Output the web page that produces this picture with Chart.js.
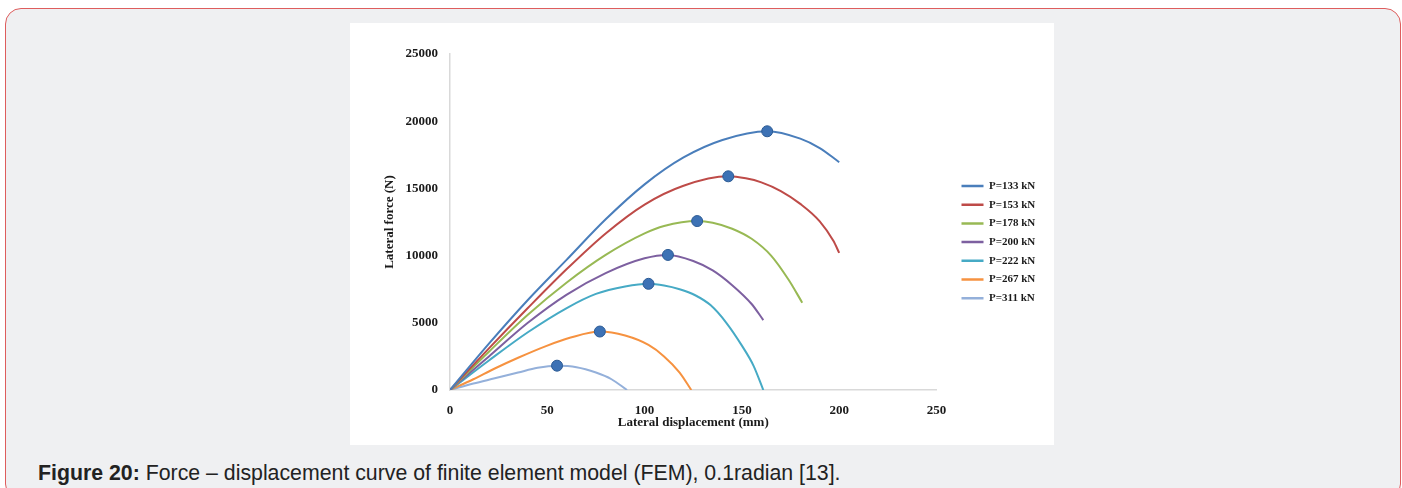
<!DOCTYPE html>
<html>
<head>
<meta charset="utf-8">
<script src="https://cdn.jsdelivr.net/npm/chart.js@4.4.1/dist/chart.umd.min.js"></script>
<style>
html,body{margin:0;padding:0;background:#fff;}
body{width:1402px;height:488px;position:relative;overflow:hidden;}
.frame{position:absolute;left:5px;top:8px;width:1396px;height:492px;border:1.5px solid #de5d5d;border-radius:16px;background:#eff0f2;box-sizing:border-box;}
.panel{position:absolute;left:350px;top:23px;width:704px;height:422px;background:#fff;}
.caption{position:absolute;left:38px;top:461px;font-family:"Liberation Sans",Arial,sans-serif;font-size:21.3px;color:#222;white-space:nowrap;}
</style>
</head>
<body>
<div class="frame"></div>
<div class="panel"><canvas id="myChart" width="704" height="422"></canvas></div>
<div class="caption"><b>Figure 20:</b> Force – displacement curve of finite element model (FEM), 0.1radian [13].</div>
<script>
// series names + colours (Excel 2010 palette)
const seriesNames = ['P=133 kN', 'P=153 kN', 'P=178 kN', 'P=200 kN', 'P=222 kN', 'P=267 kN', 'P=311 kN'];
const lineColors = ['#4a7ebb', '#be4b48', '#98b954', '#7d60a0', '#46aac5', '#f69240', '#94b0da'];

// [displacement mm, force N]
const p133 = [[0,0],[20,3450],[40,6700],[60,9700],[80,12700],[100,15300],[120,17300],[140,18600],[163,19250],[180,18700],[190,18000],[200,16950]];
const p153 = [[0,0],[20,3100],[40,6100],[60,9000],[80,11650],[100,13800],[120,15200],[143,15900],[152,15750],[160,15450],[170,14800],[180,13850],[190,12550],[197,11100],[200,10200]];
const p178 = [[0,0],[20,2850],[40,5600],[60,8000],[80,10050],[100,11650],[110,12200],[127,12570],[135,12450],[145,12000],[155,11250],[165,10000],[174,8200],[181,6500]];
const p200 = [[0,0],[20,2500],[40,5000],[60,7100],[80,8700],[100,9800],[112,10050],[125,9600],[135,8900],[145,7800],[155,6400],[161,5200]];
const p222 = [[0,0],[20,2200],[40,4300],[60,6100],[75,7150],[90,7700],[102,7900],[110,7780],[118,7500],[126,7050],[134,6300],[142,5000],[150,3300],[156,1800],[161,0]];
const p267 = [[0,0],[12,800],[23,1600],[35,2400],[49,3250],[62,3900],[77,4350],[90,4050],[102,3350],[110,2500],[118,1300],[124,0]];
const p311 = [[0,0],[12,480],[23,870],[35,1300],[45,1650],[55,1800],[65,1700],[75,1300],[83,800],[91,0]];
const allSeries = [p133, p153, p178, p200, p222, p267, p311];

// peak markers
const peakX = [163, 143, 127, 112, 102, 77, 55];
const peakY = [19250, 15900, 12570, 10050, 7900, 4350, 1810];

const xTicks = [0, 50, 100, 150, 200, 250];
const yTicks = [0, 5000, 10000, 15000, 20000, 25000];

Chart.defaults.font.family = '"Liberation Serif", "Times New Roman", serif';
Chart.defaults.font.weight = 'bold';
Chart.defaults.color = '#1a1a1a';

const datasets = [{
  label: 'peak',
  data: peakX.map((x, i) => ({x: x, y: peakY[i]})),
  showLine: false,
  pointRadius: 5.5,
  pointBackgroundColor: '#3d72b5',
  pointBorderColor: '#2b5a94',
  pointBorderWidth: 1,
  order: 0
}];
allSeries.forEach((s, i) => {
  datasets.push({
    label: seriesNames[i],
    data: s.map(p => ({x: p[0], y: p[1]})),
    borderColor: lineColors[i],
    backgroundColor: lineColors[i],
    borderWidth: 2,
    pointRadius: 0,
    fill: false,
    cubicInterpolationMode: 'monotone',
    order: 1
  });
});

// moves the legend to where the original sits
const legendShift = {
  id: 'legendShift',
  afterLayout(chart) {
    const lg = chart.legend;
    const pad = lg.options.labels.padding;
    const dx = chart.chartArea.right + 25 - pad - lg.left;
    lg.left += dx; lg.right += dx;
    const colH = lg.columnSizes[0].height;
    lg.top = 157.5 - pad;
    lg.bottom = lg.top + pad + colH;
  }
};

new Chart(document.getElementById('myChart'), {
  type: 'line',
  data: {datasets: datasets},
  options: {
    responsive: false,
    animation: false,
    layout: {padding: {top: 31, right: 26, bottom: 0, left: 0}},
    scales: {
      x: {
        type: 'linear', min: 0, max: 250,
        afterBuildTicks: s => { s.ticks = xTicks.map(v => ({value: v})); },
        afterFit: s => { s.height = 55; },
        grid: {display: false, drawTicks: false},
        border: {color: '#d9d9d9', width: 1.5},
        ticks: {padding: 13, font: {size: 13}, callback: v => String(v)},
        title: {display: true, text: 'Lateral displacement (mm)', font: {size: 13}, padding: {top: 0, bottom: 15}}
      },
      y: {
        min: 0, max: 25000,
        afterBuildTicks: s => { s.ticks = yTicks.map(v => ({value: v})); },
        afterFit: s => { s.width = 100; },
        grid: {display: false, drawTicks: false},
        border: {color: '#d9d9d9', width: 1.5},
        ticks: {padding: 12, font: {size: 13}, callback: v => String(v)},
        title: {display: true, text: 'Lateral force (N)', font: {size: 13}, padding: {top: 32, bottom: 0}}
      }
    },
    plugins: {
      tooltip: {enabled: false},
      legend: {
        position: 'right',
        labels: {
          boxWidth: 22,
          boxHeight: 2.5,
          padding: 7.7,
          font: {size: 11},
          generateLabels(chart) {
            const items = Chart.defaults.plugins.legend.labels.generateLabels(chart);
            return items.map(it => Object.assign(it, {fillStyle: it.strokeStyle, lineWidth: 0}));
          },
          filter: item => item.datasetIndex > 0
        }
      }
    }
  },
  plugins: [legendShift]
});
</script>
</body>
</html>
